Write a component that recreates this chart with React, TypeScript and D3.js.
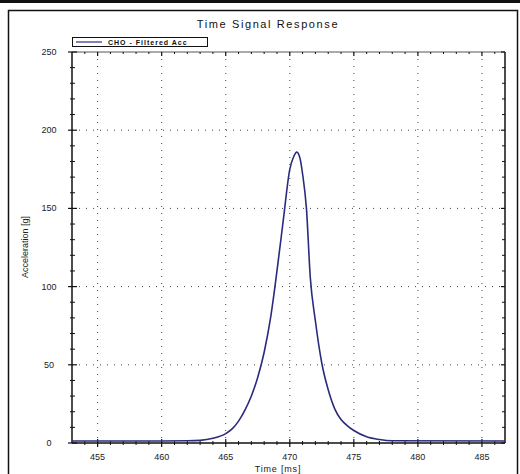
import * as d3 from 'd3';

// time [ms] and filtered acceleration [g]
const times = [
  453, 460, 462, 463, 464, 465, 465.5, 466, 466.5, 467, 467.5, 468, 468.5, 469, 469.5, 470,
  470.3, 470.55, 470.8, 471, 471.3, 471.6, 472, 472.5, 473, 473.5, 474, 474.5, 475, 476, 477,
  478, 486.8,
];
const accel = [
  1.3, 1.3, 1.4, 1.7, 3, 6, 9, 14, 21, 30, 42, 58, 80, 110, 143, 175,
  183, 186, 182, 172, 150, 106, 78, 51, 34, 22, 15, 11, 8, 4, 2.2,
  1.4, 1.3,
];

const xTicks = [455, 460, 465, 470, 475, 480, 485];
const yTicks = [0, 50, 100, 150, 200, 250];
const xMinor = d3.range(454, 487, 1).filter((t) => t % 5 !== 0);
const yMinor = d3.range(10, 250, 10).filter((v) => v % 50 !== 0);

const title = 'Time Signal Response';
const seriesName = 'CHO - Filtered Acc';
const xTitle = 'Time [ms]';
const yTitle = 'Acceleration [g]';

const W = 520;
const H = 474;
const left = 72;
const right = 505;
const top = 52;
const bottom = 443;
const lineColor = '#2b2b7e';
const font = 'Liberation Sans, Arial, sans-serif';

export default function App() {
  const x = d3.scaleLinear().domain([453, 486.8]).range([left, right]);
  const y = d3.scaleLinear().domain([0, 250]).range([bottom, top]);

  const pts = times.map((t, i) => [t, accel[i]] as [number, number]);
  const line = d3
    .line<[number, number]>()
    .x((d) => x(d[0]))
    .y((d) => y(d[1]))
    .curve(d3.curveMonotoneX);

  return (
    <div style={{ position: 'absolute', left: 0, top: 0 }}>
      <svg width={W} height={H} style={{ display: 'block', background: '#fff' }}>
        {/* outer frame */}
        <rect x={0} y={0} width={W} height={3} fill="#111" />
        <rect x={8.5} y={10.5} width={509} height={480} fill="none" stroke="#111" strokeWidth={1.5} />

        <text
          x={268}
          y={28}
          textAnchor="middle"
          fontFamily={font}
          fontSize={11}
          letterSpacing={1.6}
          fill="#111"
        >
          {title}
        </text>

        {/* grid */}
        {xTicks.map((t) => (
          <line
            key={'gx' + t}
            x1={x(t)}
            x2={x(t)}
            y1={top}
            y2={bottom}
            stroke="#444"
            strokeWidth={1}
            strokeDasharray="1,6"
          />
        ))}
        {yTicks.slice(1, -1).map((v) => (
          <line
            key={'gy' + v}
            x1={left}
            x2={right}
            y1={y(v)}
            y2={y(v)}
            stroke="#444"
            strokeWidth={1}
            strokeDasharray="1,6"
          />
        ))}

        {/* top and right edges */}
        <line x1={left} x2={right} y1={top} y2={top} stroke="#555" strokeWidth={1} />
        <line x1={right} x2={right} y1={top} y2={bottom} stroke="#111" strokeWidth={1.5} />

        {/* left axis */}
        <line x1={left} x2={left} y1={top} y2={bottom} stroke="#111" strokeWidth={1.5} />
        {yTicks.map((v) => (
          <g key={'yt' + v}>
            <line x1={left - 4} x2={left + 5} y1={y(v)} y2={y(v)} stroke="#111" strokeWidth={1.2} />
            <line x1={right - 4} x2={right} y1={y(v)} y2={y(v)} stroke="#111" strokeWidth={1.2} />
            <text
              x={49}
              y={y(v) + 3}
              textAnchor="middle"
              fontFamily={font}
              fontSize={9}
              fill="#222"
            >
              {v}
            </text>
          </g>
        ))}
        {yMinor.map((v) => (
          <g key={'ym' + v}>
            <line x1={left - 2} x2={left + 3} y1={y(v)} y2={y(v)} stroke="#111" strokeWidth={1} />
            <line x1={right - 3} x2={right} y1={y(v)} y2={y(v)} stroke="#111" strokeWidth={1} />
          </g>
        ))}

        {/* bottom axis */}
        <line x1={left} x2={right} y1={bottom} y2={bottom} stroke="#111" strokeWidth={1.5} />
        {xTicks.map((t) => (
          <g key={'xt' + t}>
            <line x1={x(t)} x2={x(t)} y1={bottom - 4} y2={bottom + 4} stroke="#111" strokeWidth={1.2} />
            <line x1={x(t)} x2={x(t)} y1={top} y2={top + 4} stroke="#111" strokeWidth={1.2} />
            <text
              x={x(t)}
              y={460}
              textAnchor="middle"
              fontFamily={font}
              fontSize={9}
              fill="#222"
            >
              {t}
            </text>
          </g>
        ))}
        {xMinor.map((t) => (
          <g key={'xm' + t}>
            <line x1={x(t)} x2={x(t)} y1={bottom - 2} y2={bottom + 2} stroke="#111" strokeWidth={1} />
            <line x1={x(t)} x2={x(t)} y1={top} y2={top + 2} stroke="#111" strokeWidth={1} />
          </g>
        ))}

        <text
          x={278}
          y={472}
          textAnchor="middle"
          fontFamily={font}
          fontSize={9}
          letterSpacing={0.8}
          fill="#222"
        >
          {xTitle}
        </text>
        <text
          transform={`translate(28,247) rotate(-90)`}
          textAnchor="middle"
          fontFamily={font}
          fontSize={9}
          fill="#222"
        >
          {yTitle}
        </text>

        {/* legend */}
        <rect x={72.5} y={37.5} width={135} height={9} fill="#fff" stroke="#111" strokeWidth={1} />
        <line x1={76} x2={102} y1={42} y2={42} stroke={lineColor} strokeWidth={1.2} />
        <text
          x={108}
          y={45}
          fontFamily={font}
          fontSize={7}
          fontWeight="bold"
          letterSpacing={1}
          fill="#111"
        >
          {seriesName}
        </text>

        {/* signal */}
        <path d={line(pts) ?? ''} fill="none" stroke={lineColor} strokeWidth={1.6} />
      </svg>
    </div>
  );
}
